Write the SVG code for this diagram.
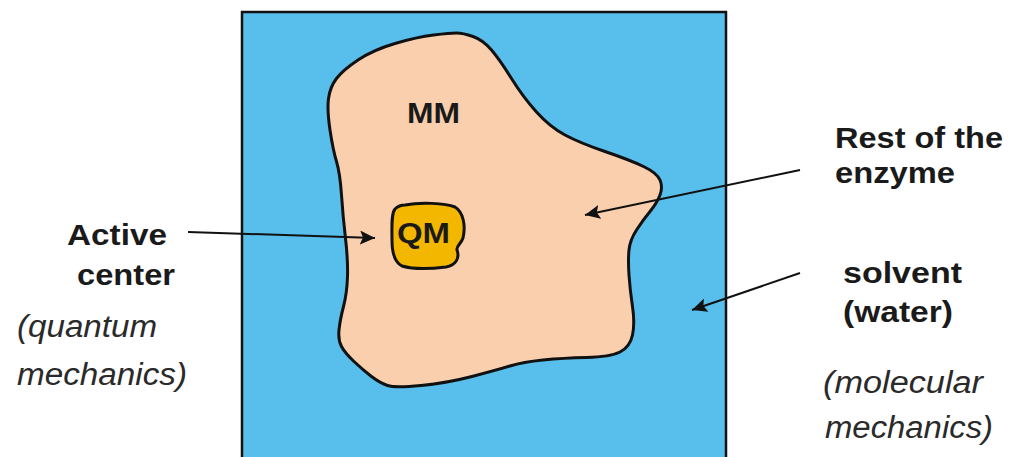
<svg xmlns="http://www.w3.org/2000/svg" width="1013" height="457" viewBox="0 0 1013 457">
<style>
.b{font-family:"Liberation Sans",Arial,sans-serif;font-weight:bold;font-size:29px;fill:#1a1a1a}
.i{font-family:"Liberation Sans",Arial,sans-serif;font-style:italic;font-size:31px;fill:#2a2a2a}
.arr{stroke:#111;stroke-width:2;fill:none;marker-end:url(#ah)}
</style>
<defs>
<marker id="ah" markerUnits="userSpaceOnUse" markerWidth="15" markerHeight="14" refX="15" refY="7" orient="auto">
<path d="M0,0 L15,7 L0,14 L3,7 Z" fill="#111"/>
</marker>
</defs>
<rect width="1013" height="457" fill="#ffffff"/>
<g id="solvent-box">
<rect x="242" y="12" width="484" height="460" fill="#58bfec" stroke="#111" stroke-width="2.5"/>
</g>
<g id="enzyme">
<path d="M456.5,33 Q450,33 433.5,35 Q417,37 395,43.5 Q373,50 358,60 Q343,70 336.5,78.5 Q330,87 328.5,98.5 Q327,110 330,130 Q333,150 336.5,161.5 Q340,173 341.5,195 Q343,217 345.5,238.5 Q348,260 347.5,276.5 Q347,293 343.5,306.5 Q340,320 339,330 Q338,340 341.5,346.5 Q345,353 354,361.5 Q363,370 371.5,376.5 Q380,383 387.5,385.5 Q395,388 421,385.5 Q447,383 472,376.5 Q497,370 510,366 Q523,362 543,360 Q563,358 586.5,357.5 Q610,357 620,352 Q630,347 632.5,335 Q635,323 632.5,306.5 Q630,290 629,275 Q628,260 629,250 Q630,240 636.5,230 Q643,220 650,211.5 Q657,203 660,195 Q663,187 660,180 Q657,173 643.5,166.5 Q630,160 605,151.5 Q580,143 565,135 Q550,127 536.5,112 Q523,97 511.5,78.5 Q500,60 491.5,50 Q483,40 473,36.5 Q463,33 456.5,33 Z" fill="#f9cfae" stroke="#111" stroke-width="3" stroke-linejoin="round"/>
<text class="b" x="407" y="123" textLength="53" lengthAdjust="spacingAndGlyphs">MM</text>
</g>
<g id="active-center">
<path d="M405,205 C420,202 445,203 455,207 C463,212 466,225 463,238 C461,244 456,246 457,250 C460,258 456,265 446,267 C430,269 412,269 402,266 C394,262 392,252 392,240 C392,228 391,214 395,209 C398,206 401,205 405,205 Z" fill="#f4b700" stroke="#111" stroke-width="3"/>
<text class="b" x="397" y="243" textLength="53" lengthAdjust="spacingAndGlyphs">QM</text>
</g>
<g id="connectors">
<line class="arr" x1="188" y1="232" x2="375" y2="238"/>
<line class="arr" x1="800" y1="170" x2="585" y2="215"/>
<line class="arr" x1="800" y1="273" x2="692" y2="310"/>
</g>
<g id="label-active">
<text class="b" x="67" y="245" textLength="100" lengthAdjust="spacingAndGlyphs">Active</text>
<text class="b" x="77" y="285" textLength="98" lengthAdjust="spacingAndGlyphs">center</text>
<text class="i" x="17" y="337" textLength="140" lengthAdjust="spacingAndGlyphs">(quantum</text>
<text class="i" x="17" y="385" textLength="170" lengthAdjust="spacingAndGlyphs">mechanics)</text>
</g>
<g id="label-enzyme">
<text class="b" x="835" y="148" textLength="168" lengthAdjust="spacingAndGlyphs">Rest of the</text>
<text class="b" x="835" y="183" textLength="120" lengthAdjust="spacingAndGlyphs">enzyme</text>
</g>
<g id="label-solvent">
<text class="b" x="843" y="283" textLength="119" lengthAdjust="spacingAndGlyphs">solvent</text>
<text class="b" x="843" y="322" textLength="110" lengthAdjust="spacingAndGlyphs">(water)</text>
<text class="i" x="823" y="393" textLength="160" lengthAdjust="spacingAndGlyphs">(molecular</text>
<text class="i" x="825" y="438" textLength="168" lengthAdjust="spacingAndGlyphs">mechanics)</text>
</g>
</svg>
